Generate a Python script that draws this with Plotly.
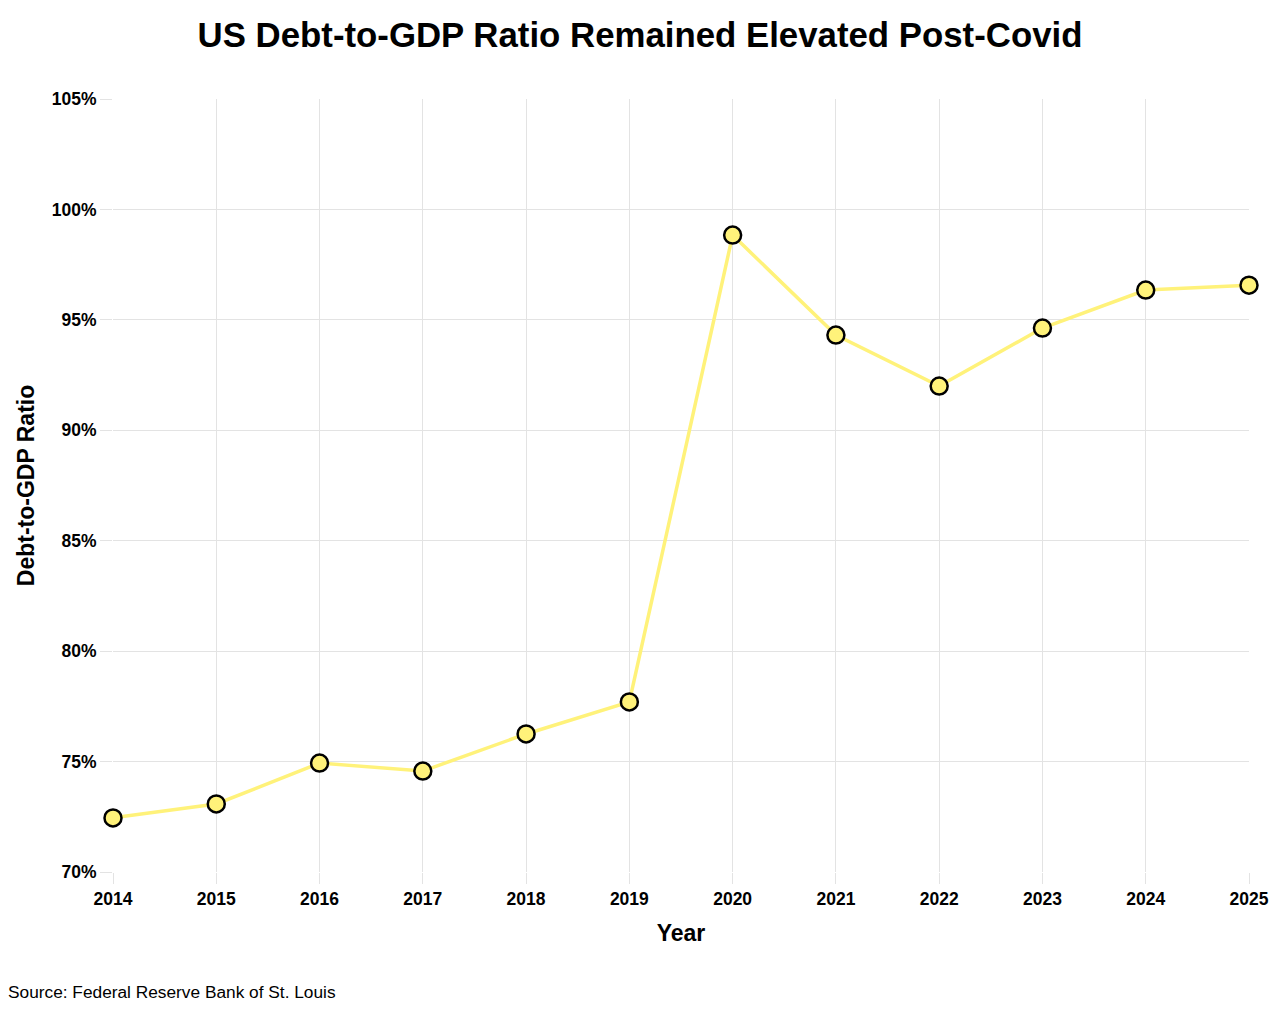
import plotly.graph_objects as go

# Datos (ratio deuda/PIB de EEUU, %)
years = [2014, 2015, 2016, 2017, 2018, 2019, 2020, 2021, 2022, 2023, 2024, 2025]
debt_to_gdp = [72.45, 73.08, 74.93, 74.57, 76.25, 77.70, 98.84, 94.31, 92.00, 94.63, 96.35, 96.57]
y_ticks = [70, 75, 80, 85, 90, 95, 100, 105]
y_tick_labels = [f"{v}%" for v in y_ticks]

FONT = "Liberation Sans, Arial, sans-serif"
GRID = "#e3e3e3"


def printGraphic():
    fig = go.Figure()

    fig.add_trace(go.Scatter(
        x=years,
        y=debt_to_gdp,
        mode="lines+markers",
        line=dict(color="#fff27a", width=3.5),
        marker=dict(size=17, color="#fff27a", line=dict(color="black", width=2.5)),
        showlegend=False,
        cliponaxis=False,
    ))

    # La pagina tiene un margen de 8px, lo compensamos en los margenes
    fig.update_layout(
        width=1280,
        height=1023,
        paper_bgcolor="white",
        plot_bgcolor="white",
        margin=dict(l=105, r=39, t=91, b=159),
        font=dict(family=FONT, color="black"),
        title=dict(
            text="<b>US Debt-to-GDP Ratio Remained Elevated Post-Covid</b>",
            x=0.5 - 8 / 1280, xanchor="center", y=1 - 27 / 1023, yanchor="middle",
            font=dict(size=34.8, family=FONT, color="black"),
        ),
        xaxis=dict(
            range=[2014, 2025],
            tickvals=years,
            ticktext=[f"<b>{y}</b>" for y in years],
            tickfont=dict(size=17.5),
            showgrid=True, gridcolor=GRID, gridwidth=1,
            ticks="outside", ticklen=11, tickcolor=GRID,
            zeroline=False, showline=False,
            title=dict(text="<b>Year</b>", font=dict(size=23), standoff=16),
        ),
        yaxis=dict(
            range=[70, 105],
            tickvals=y_ticks,
            ticktext=[f"<b>{t}</b>" for t in y_tick_labels],
            tickfont=dict(size=17.5),
            showgrid=True, gridcolor=GRID, gridwidth=1,
            ticks="outside", ticklen=12, tickcolor=GRID,
            zeroline=False, showline=False,
            title=dict(text="<b>Debt-to-GDP Ratio</b>", font=dict(size=23), standoff=10),
        ),
        annotations=[dict(
            text="Source: Federal Reserve Bank of St. Louis",
            xref="paper", yref="paper",
            x=-107 / 1136, y=-120 / 773,
            xanchor="left", yanchor="middle",
            showarrow=False,
            font=dict(size=17.3, family=FONT, color="black"),
        )],
    )

    fig.write_html("out.html")


if __name__ == "__main__":
    printGraphic()
